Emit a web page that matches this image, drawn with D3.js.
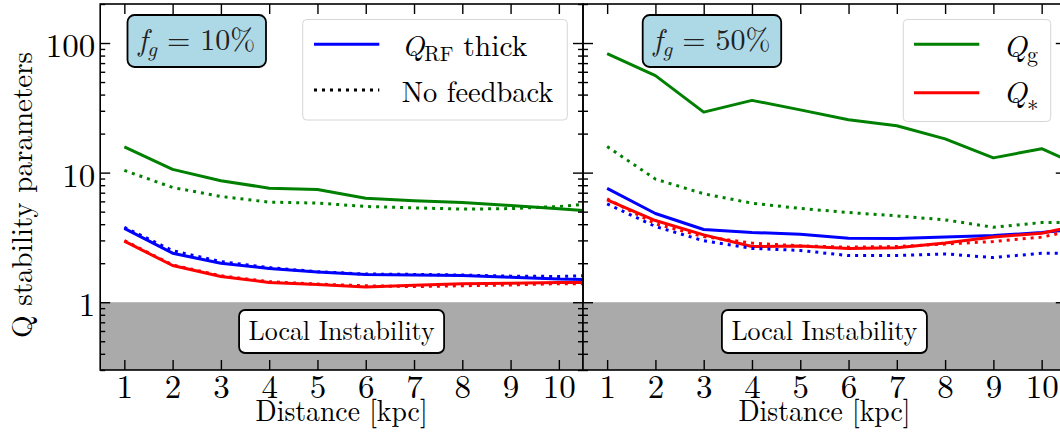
<!DOCTYPE html>
<html>
<head>
<meta charset="utf-8">
<script src="https://cdn.jsdelivr.net/npm/d3@7"></script>
<style>
  html, body { margin: 0; padding: 0; background: #fff; }
  svg { display: block; }
</style>
</head>
<body>
<svg id="chart" width="1060" height="441"></svg>
<script>
// ---------------- data ----------------
const distances = [1, 2, 3, 4, 5, 6, 7, 8, 9, 10, 11];
const xTicks = [1, 2, 3, 4, 5, 6, 7, 8, 9, 10];
const yMajorTicks = [1, 10, 100];
const yTickLabels = ["1", "10", "100"];
const panelLabels = ["10%", "50%"];

// f_g = 10%
const qg10 = [15.8, 10.6, 8.65, 7.59, 7.41, 6.35, 6.06, 5.88, 5.58, 5.26, 4.95];
const qgNoFb10 = [10.4, 7.68, 6.55, 5.92, 5.82, 5.48, 5.35, 5.23, 5.28, 5.48, 5.89];
const qrf10 = [3.71, 2.39, 2.00, 1.82, 1.71, 1.64, 1.62, 1.61, 1.56, 1.51, 1.49];
const qrfNoFb10 = [3.79, 2.50, 2.06, 1.85, 1.72, 1.65, 1.64, 1.62, 1.59, 1.58, 1.62];
const qs10 = [2.96, 1.92, 1.58, 1.42, 1.37, 1.31, 1.35, 1.39, 1.40, 1.42, 1.42];
const qsNoFb10 = [2.99, 1.94, 1.60, 1.44, 1.38, 1.34, 1.32, 1.34, 1.36, 1.39, 1.39];

// f_g = 50%
const qg50 = [82.7, 56.0, 29.3, 36.1, 30.5, 25.6, 23.0, 18.2, 13.0, 15.3, 10.4];
const qgNoFb50 = [15.9, 8.91, 6.87, 5.81, 5.29, 4.92, 4.64, 4.32, 3.79, 4.12, 4.12];
const qrf50 = [7.55, 4.84, 3.64, 3.45, 3.35, 3.12, 3.10, 3.19, 3.27, 3.45, 3.76];
const qrfNoFb50 = [5.74, 3.84, 2.98, 2.60, 2.51, 2.29, 2.29, 2.36, 2.21, 2.39, 2.39];
const qs50 = [6.17, 4.27, 3.31, 2.69, 2.72, 2.60, 2.63, 2.86, 3.18, 3.41, 4.11];
const qsNoFb50 = [6.27, 4.03, 3.21, 2.86, 2.72, 2.66, 2.69, 2.81, 2.94, 3.18, 3.81];

const colors = { qg: "#008000", qrf: "#0000ff", qs: "#ff0000" };

// ---------------- layout ----------------
const FONT = '"Latin Modern Roman", "CMU Serif", "Liberation Serif", serif';
const svg = d3.select("#chart");
const plotTop = 4, plotBottom = 370;
const panelW = 482.8;
const panels = [
  { x0: 100.2, label: panelLabels[0], boxX: 127.5,
    series: [
      { v: qrf10, c: colors.qrf, dot: false }, { v: qs10, c: colors.qs, dot: false }, { v: qg10, c: colors.qg, dot: false },
      { v: qrfNoFb10, c: colors.qrf, dot: true }, { v: qsNoFb10, c: colors.qs, dot: true }, { v: qgNoFb10, c: colors.qg, dot: true }
    ],
    legend: "left" },
  { x0: 583, label: panelLabels[1], boxX: 642.7,
    series: [
      { v: qrf50, c: colors.qrf, dot: false }, { v: qs50, c: colors.qs, dot: false }, { v: qg50, c: colors.qg, dot: false },
      { v: qrfNoFb50, c: colors.qrf, dot: true }, { v: qsNoFb50, c: colors.qs, dot: true }, { v: qgNoFb50, c: colors.qg, dot: true }
    ],
    legend: "right" }
];

const y = d3.scaleLog().domain([0.3, 200]).range([plotBottom, plotTop]);
const yMinor = [];
[0.1, 1, 10, 100].forEach(d => { for (let k = 2; k <= 9; k++) { const v = +(d * k).toFixed(4); if (v >= 0.3 && v <= 200) yMinor.push(v); } });

const defs = svg.append("defs");
const addText = (sel, size) => sel.append("text").style("font-family", FONT).style("font-size", size + "px").attr("fill", "#000");

panels.forEach((p, i) => {
  const x = d3.scaleLinear().domain([0.5, 10.5]).range([p.x0, p.x0 + panelW]);
  const g = svg.append("g");
  const clipId = "clip" + i;
  defs.append("clipPath").attr("id", clipId).append("rect")
    .attr("x", p.x0).attr("y", plotTop).attr("width", panelW).attr("height", plotBottom - plotTop);

  // gray instability band
  g.append("rect").attr("x", p.x0).attr("width", panelW)
    .attr("y", y(1)).attr("height", y(0.3) - y(1)).attr("fill", "#aaaaaa");

  // lines
  const line = d3.line().x((d, j) => x(distances[j])).y(d => y(d));
  const lg = g.append("g").attr("clip-path", `url(#${clipId})`);
  p.series.forEach(s => {
    lg.append("path").datum(s.v).attr("d", line)
      .attr("fill", "none").attr("stroke", s.c).attr("stroke-width", 3)
      .attr("stroke-linejoin", "round")
      .attr("stroke-dasharray", s.dot ? "3,5" : null);
  });

  // axes (inward ticks on all sides)
  const styleAxis = sel => {
    sel.select(".domain").remove();
    sel.selectAll(".tick line").attr("stroke", "#000").attr("stroke-width", 1.4);
    sel.selectAll("text").style("font-family", FONT).style("font-size", "33px").attr("fill", "#000");
  };
  g.append("g").attr("transform", `translate(0,${plotBottom})`)
    .call(d3.axisBottom(x).tickValues(xTicks).tickFormat(d3.format("d")).tickSize(-10).tickPadding(5))
    .call(styleAxis);
  g.append("g").attr("transform", `translate(0,${plotTop})`)
    .call(d3.axisTop(x).tickValues(xTicks).tickFormat("").tickSize(-10))
    .call(styleAxis);
  const yl = g.append("g").attr("transform", `translate(${p.x0},0)`)
    .call(d3.axisLeft(y).tickValues(yMajorTicks).tickFormat((d, j) => i === 0 ? yTickLabels[j] : "").tickSize(-10).tickPadding(5))
    .call(styleAxis);
  yl.selectAll("text").attr("dy", "0.41em");
  g.append("g").attr("transform", `translate(${p.x0},0)`)
    .call(d3.axisLeft(y).tickValues(yMinor).tickFormat("").tickSize(-5))
    .call(styleAxis);
  g.append("g").attr("transform", `translate(${p.x0 + panelW},0)`)
    .call(d3.axisRight(y).tickValues(yMajorTicks).tickFormat("").tickSize(-10))
    .call(styleAxis);
  g.append("g").attr("transform", `translate(${p.x0 + panelW},0)`)
    .call(d3.axisRight(y).tickValues(yMinor).tickFormat("").tickSize(-5))
    .call(styleAxis);

  // frame
  g.append("rect").attr("x", p.x0).attr("y", plotTop).attr("width", panelW).attr("height", plotBottom - plotTop)
    .attr("fill", "none").attr("stroke", "#000").attr("stroke-width", 1.6);

  // x label
  const cx = p.x0 + panelW / 2;
  addText(g, 30).attr("x", cx).attr("y", 421).attr("text-anchor", "middle")
    .attr("textLength", 172).attr("lengthAdjust", "spacingAndGlyphs")
    .text("Distance [kpc]");

  // Local Instability box
  g.append("rect").attr("x", cx - 102.5).attr("y", 310).attr("width", 205).attr("height", 43)
    .attr("rx", 6).attr("fill", "#fff").attr("stroke", "#000").attr("stroke-width", 1.8);
  addText(g, 27.5).attr("x", cx).attr("y", 339.5).attr("text-anchor", "middle")
    .attr("textLength", 186).attr("lengthAdjust", "spacingAndGlyphs")
    .text("Local Instability");

  // f_g box
  g.append("rect").attr("x", p.boxX).attr("y", 15).attr("width", 138.5).attr("height", 52)
    .attr("rx", 7).attr("fill", "#add8e6").attr("stroke", "#000").attr("stroke-width", 1.8);
  const ft = addText(g, 30).attr("x", p.boxX + 69.25).attr("y", 50).attr("text-anchor", "middle").attr("fill", "#222");
  ft.append("tspan").attr("font-style", "italic").text("f");
  ft.append("tspan").attr("font-style", "italic").style("font-size", "21px").attr("dy", 6).text("g");
  ft.append("tspan").attr("dy", -6).text(" = " + p.label);

  // legend
  if (p.legend === "left") {
    g.append("rect").attr("x", 302.7).attr("y", 19.5).attr("width", 264.6).attr("height", 100.5)
      .attr("rx", 4).attr("fill", "#fff").attr("fill-opacity", 0.85).attr("stroke", "#d6d6d6").attr("stroke-width", 1);
    g.append("line").attr("x1", 314).attr("x2", 379.3).attr("y1", 44.3).attr("y2", 44.3)
      .attr("stroke", colors.qrf).attr("stroke-width", 3);
    g.append("line").attr("x1", 314).attr("x2", 379.3).attr("y1", 90).attr("y2", 90)
      .attr("stroke", "#000").attr("stroke-width", 3).attr("stroke-dasharray", "3,5");
    const t1 = addText(g, 29.5).attr("x", 401.7).attr("y", 56);
    t1.append("tspan").attr("font-style", "italic").text("Q");
    t1.append("tspan").style("font-size", "21px").attr("dy", 5).text("RF");
    t1.append("tspan").attr("dy", -5).text(" thick");
    addText(g, 29.5).attr("x", 401.7).attr("y", 101.7)
      .attr("textLength", 151.7).attr("lengthAdjust", "spacingAndGlyphs").text("No feedback");
  } else {
    g.append("rect").attr("x", 903.3).attr("y", 19.5).attr("width", 147.4).attr("height", 102)
      .attr("rx", 4).attr("fill", "#fff").attr("fill-opacity", 0.85).attr("stroke", "#d6d6d6").attr("stroke-width", 1);
    g.append("line").attr("x1", 914).attr("x2", 979.3).attr("y1", 44.3).attr("y2", 44.3)
      .attr("stroke", colors.qg).attr("stroke-width", 3);
    g.append("line").attr("x1", 914).attr("x2", 979.3).attr("y1", 92.7).attr("y2", 92.7)
      .attr("stroke", colors.qs).attr("stroke-width", 3);
    const t1 = addText(g, 31).attr("x", 1003.3).attr("y", 56.7);
    t1.append("tspan").attr("font-style", "italic").text("Q");
    t1.append("tspan").style("font-size", "22px").attr("dy", 5).text("g");
    const t2 = addText(g, 31).attr("x", 1003.3).attr("y", 103);
    t2.append("tspan").attr("font-style", "italic").text("Q");
    t2.append("tspan").style("font-size", "23px").attr("dy", 8).text("\u2217");
  }
});

// y label
addText(svg, 29.5).attr("transform", "translate(32,195) rotate(-90)").attr("text-anchor", "middle")
  .attr("textLength", 286).attr("lengthAdjust", "spacingAndGlyphs")
  .text("Q stability parameters");
</script>
</body>
</html>
